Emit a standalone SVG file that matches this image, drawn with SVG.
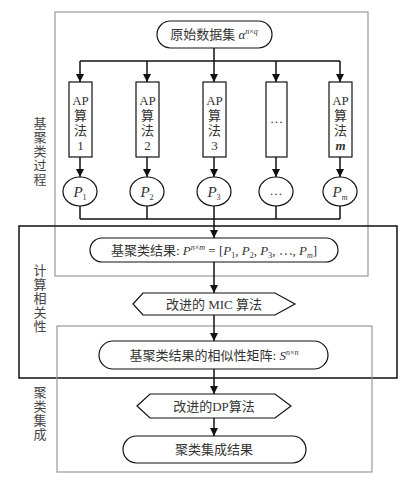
<svg xmlns="http://www.w3.org/2000/svg" width="416" height="480" viewBox="0 0 416 480">
<style>
text{font-family:"Liberation Serif","Noto Sans CJK SC",serif;font-size:13px;fill:#333;text-anchor:middle}
.it{font-style:italic}
.sm{font-size:8px}
.pc{font-size:15px}
.node{fill:#fff;stroke:#111;stroke-width:1.2}
.gbox{fill:none;stroke:#999;stroke-width:1.2}
.bbox{fill:none;stroke:#111;stroke-width:1.5}
.c{fill:none;stroke:#111;stroke-width:1.5}
.side{font-size:13px;fill:#444}
</style>
<defs>
<marker id="ah" viewBox="0 0 10 10" refX="10" refY="5" markerWidth="8" markerHeight="8" markerUnits="userSpaceOnUse" orient="auto">
<path d="M0,0 L10,5 L0,10 z" fill="#111"/>
</marker>
</defs>
<rect width="416" height="480" fill="#fff"/>
<g id="frames">
<rect class="gbox" x="55" y="12" width="313" height="264"/>
<rect class="bbox" x="19" y="226" width="378" height="152"/>
<rect class="gbox" x="57" y="326" width="315" height="146"/>
</g>
<g id="side-labels">
<text class="side" x="40" y="128">基</text>
<text class="side" x="40" y="142">聚</text>
<text class="side" x="40" y="156">类</text>
<text class="side" x="40" y="170">过</text>
<text class="side" x="40" y="184">程</text>
<text class="side" x="40" y="275">计</text>
<text class="side" x="40" y="289">算</text>
<text class="side" x="40" y="303">相</text>
<text class="side" x="40" y="317">关</text>
<text class="side" x="40" y="331">性</text>
<text class="side" x="40" y="397">聚</text>
<text class="side" x="40" y="411">类</text>
<text class="side" x="40" y="425">集</text>
<text class="side" x="40" y="439">成</text>
</g>
<g id="connectors">
<line class="c" x1="214" y1="48" x2="214" y2="82" marker-end="url(#ah)"/>
<line class="c" x1="80" y1="61" x2="340" y2="61"/>
<line class="c" x1="80" y1="61" x2="80" y2="82" marker-end="url(#ah)"/>
<line class="c" x1="147" y1="61" x2="147" y2="82" marker-end="url(#ah)"/>
<line class="c" x1="276" y1="61" x2="276" y2="82" marker-end="url(#ah)"/>
<line class="c" x1="340" y1="61" x2="340" y2="82" marker-end="url(#ah)"/>
<line class="c" x1="80" y1="157" x2="80" y2="177" marker-end="url(#ah)"/>
<line class="c" x1="147" y1="157" x2="147" y2="177" marker-end="url(#ah)"/>
<line class="c" x1="214" y1="157" x2="214" y2="177" marker-end="url(#ah)"/>
<line class="c" x1="276" y1="157" x2="276" y2="177" marker-end="url(#ah)"/>
<line class="c" x1="340" y1="157" x2="340" y2="177" marker-end="url(#ah)"/>
<line class="c" x1="80" y1="206" x2="80" y2="219"/>
<line class="c" x1="147" y1="206" x2="147" y2="219"/>
<line class="c" x1="276" y1="206" x2="276" y2="219"/>
<line class="c" x1="340" y1="206" x2="340" y2="219"/>
<line class="c" x1="80" y1="219" x2="340" y2="219"/>
<line class="c" x1="214" y1="206" x2="214" y2="238" marker-end="url(#ah)"/>
<line class="c" x1="214" y1="262" x2="214" y2="293" marker-end="url(#ah)"/>
<line class="c" x1="214" y1="315" x2="214" y2="341" marker-end="url(#ah)"/>
<line class="c" x1="214" y1="369" x2="214" y2="394" marker-end="url(#ah)"/>
<line class="c" x1="214" y1="418" x2="214" y2="436" marker-end="url(#ah)"/>
</g>
<g id="n-source">
<rect class="node" x="157" y="21" width="115" height="27" rx="13.5"/>
<text x="214" y="39">原始数据集 <tspan class="it">α</tspan><tspan class="it sm" dy="-5">n</tspan><tspan class="sm">×</tspan><tspan class="it sm">q</tspan></text>
</g>
<g id="n-ap1">
<rect class="node" x="69" y="82" width="23" height="75"/>
<text x="80.5" y="105">AP</text><text x="80.5" y="120">算</text><text x="80.5" y="135">法</text><text x="80.5" y="150">1</text>
</g>
<g id="n-ap2">
<rect class="node" x="136" y="82" width="23" height="75"/>
<text x="147.5" y="105">AP</text><text x="147.5" y="120">算</text><text x="147.5" y="135">法</text><text x="147.5" y="150">2</text>
</g>
<g id="n-ap3">
<rect class="node" x="203" y="82" width="23" height="75"/>
<text x="214.5" y="105">AP</text><text x="214.5" y="120">算</text><text x="214.5" y="135">法</text><text x="214.5" y="150">3</text>
</g>
<g id="n-apdots">
<rect class="node" x="266" y="82" width="21" height="75"/>
<text x="276.5" y="123">…</text>
</g>
<g id="n-apm">
<rect class="node" x="329" y="82" width="23" height="75"/>
<text x="340.5" y="105">AP</text><text x="340.5" y="120">算</text><text x="340.5" y="135">法</text><text x="340.5" y="150" class="it" font-weight="bold">m</text>
</g>
<g id="n-p1">
<ellipse class="node" cx="80" cy="191.5" rx="17" ry="14.5"/>
<text class="pc" x="80" y="197"><tspan class="it">P</tspan><tspan class="sm" dy="3">1</tspan></text>
</g>
<g id="n-p2">
<ellipse class="node" cx="147" cy="191.5" rx="17" ry="14.5"/>
<text class="pc" x="147" y="197"><tspan class="it">P</tspan><tspan class="sm" dy="3">2</tspan></text>
</g>
<g id="n-p3">
<ellipse class="node" cx="214" cy="191.5" rx="17" ry="14.5"/>
<text class="pc" x="214" y="197"><tspan class="it">P</tspan><tspan class="sm" dy="3">3</tspan></text>
</g>
<g id="n-pdots">
<ellipse class="node" cx="276" cy="191.5" rx="17" ry="14.5"/>
<text x="276" y="195">…</text>
</g>
<g id="n-pm">
<ellipse class="node" cx="340" cy="191.5" rx="17" ry="14.5"/>
<text class="pc" x="340" y="197"><tspan class="it">P</tspan><tspan class="it sm" dy="3">m</tspan></text>
</g>
<g id="n-base">
<rect class="node" x="90" y="238" width="248" height="24" rx="12"/>
<text x="214" y="255">基聚类结果: <tspan class="it">P</tspan><tspan class="it sm" dy="-5">n</tspan><tspan class="sm">×</tspan><tspan class="it sm">m</tspan><tspan dy="5"> = [</tspan><tspan class="it">P</tspan><tspan class="sm" dy="3">1</tspan><tspan dy="-3">, </tspan><tspan class="it">P</tspan><tspan class="sm" dy="3">2</tspan><tspan dy="-3">, </tspan><tspan class="it">P</tspan><tspan class="sm" dy="3">3</tspan><tspan dy="-3">,  ⋯,  </tspan><tspan class="it">P</tspan><tspan class="it sm" dy="3">m</tspan><tspan dy="-3">]</tspan></text>
</g>
<g id="n-mic">
<polygon class="node" points="133,304 143,293 275,293 295,304 275,315 143,315"/>
<text x="214" y="309">改进的 MIC 算法</text>
</g>
<g id="n-sim">
<rect class="node" x="99" y="341" width="229" height="28" rx="14"/>
<text x="214" y="360">基聚类结果的相似性矩阵: <tspan class="it">S</tspan><tspan class="it sm" dy="-5">n</tspan><tspan class="sm">×</tspan><tspan class="it sm">n</tspan></text>
</g>
<g id="n-dp">
<polygon class="node" points="137,406 150,394 275,394 291,406 275,418 150,418"/>
<text x="214" y="411">改进的DP算法</text>
</g>
<g id="n-result">
<rect class="node" x="123" y="436" width="183" height="27" rx="13.5"/>
<text x="214" y="454">聚类集成结果</text>
</g>
</svg>
